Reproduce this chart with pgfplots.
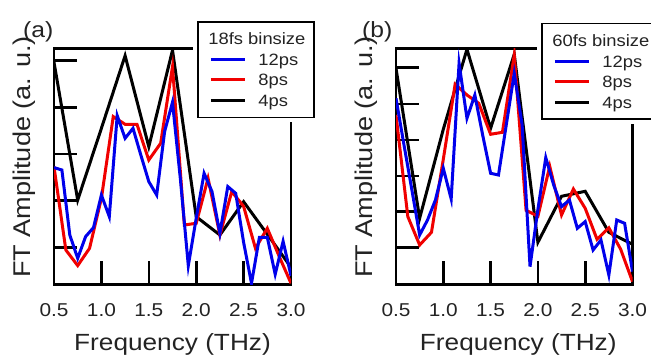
\documentclass[border=0pt]{standalone}
\usepackage{fontspec}
\setmainfont{Liberation Sans}[FakeStretch=1.12]
\usepackage{pgfplots}
\pgfplotsset{compat=1.18}
\definecolor{tcol}{RGB}{35,35,35}
\definecolor{pblue}{RGB}{0,0,235}
\definecolor{pred}{RGB}{240,0,0}
\pgfplotsset{
  panel/.style={
    scale only axis, anchor=south west,
    width=237pt, height=235.8pt,
    xmin=0.5, xmax=3.0, ymin=0, ymax=235.8,
    axis line style={line width=2.6pt, black},
    tick align=inside, major tick length=23pt,
    tick style={line width=2.6pt, black},
    xtick pos=left, ytick pos=left,
    xtick={0.5,1.0,1.5,2.0,2.5,3.0},
    xticklabels={0.5,1.0,1.5,2.0,2.5,3.0},
    yticklabels={},
    xticklabel style={font=\fontsize{18.6}{20}\selectfont, text=tcol, anchor=base, yshift=-32pt},
    xlabel={Frequency (THz)},
    ylabel={FT Amplitude (a. u.)},
    xlabel style={font=\fontsize{23.4}{26}\selectfont, text=tcol, anchor=base},
    ylabel style={font=\fontsize{24.2}{27}\selectfont, text=tcol, anchor=base, rotate=0},
    legend cell align=left,
    legend image code/.code={\draw[#1, line width=3pt] (0pt,0pt) -- (34pt,0pt);},
    legend style={anchor=north west, draw=black, line width=1.8pt, fill=white,
      preaction={draw=white, line width=9pt},
      inner xsep=8.5pt, inner ysep=9pt, row sep=4.5pt, column sep=9pt,
      font=\fontsize{16.4}{18}\selectfont, text=tcol,
      nodes={inner sep=0pt, text height=14pt, text depth=2pt}},
    every axis plot/.append style={line width=3pt},
  }
}
\begin{document}
\begin{tikzpicture}
% ---------------- panel (a) ----------------
\begin{axis}[panel, at={(54pt,71.7pt)},
  ytick={37,83.7,130.3,177,223.7},
  xlabel style={at={(axis description cs:0.5,-0.28)}},
  ylabel style={at={(axis description cs:-0.099,0.54)}},
  legend style={at={(axis description cs:0.6034,1.1166)}}]
\addlegendimage{empty legend}\addlegendentry{\hspace{-50pt}18fs binsize\hspace{5pt}}
\addlegendimage{pblue}\addlegendentry{12ps}
\addlegendimage{pred}\addlegendentry{8ps}
\addlegendimage{black}\addlegendentry{4ps}
\addplot[black, forget plot] coordinates {
(0.5,222) (0.75,84.3) (1.0,156) (1.25,228.6) (1.5,137.6) (1.75,234)
(2.0,67.6) (2.25,49.3) (2.5,82.6) (2.75,50) (3.0,17)};
\addplot[pred, forget plot] coordinates {
(0.5,117.7) (0.625,34.3) (0.75,18.7) (0.875,36) (1.0,86) (1.125,167.7)
(1.25,160) (1.375,160) (1.5,124.3) (1.625,141) (1.75,217.7) (1.875,59.3)
(2.0,61) (2.125,106) (2.25,49.3) (2.375,92.7) (2.5,78) (2.625,36)
(2.75,56) (2.875,28) (3.0,1)};
\addplot[pblue, forget plot] coordinates {
(0.5,116.7) (0.5833,114.3) (0.6667,49.3) (0.75,26) (0.8333,47.7) (0.9167,56.7)
(1.0,89.3) (1.0833,67.7) (1.1667,168.7) (1.25,146) (1.3333,156) (1.4167,129)
(1.5,102.7) (1.5833,89.3) (1.6667,152.7) (1.75,182) (1.8333,105) (1.9167,18.7)
(2.0,66) (2.0833,111) (2.1667,92.7) (2.25,51) (2.3333,97.7) (2.4167,91)
(2.5,42) (2.5833,1) (2.6667,47) (2.75,47) (2.8333,10) (2.9167,43) (3.0,8.5)};
\end{axis}
% ---------------- panel (b) ----------------
\begin{axis}[panel, at={(396pt,71.7pt)}, width=236.5pt,
  ytick={36.7,72.7,108.3,144.3,180.3,217},
  xlabel style={at={(axis description cs:0.517,-0.28)}},
  ylabel style={at={(axis description cs:-0.099,0.54)}},
  legend style={at={(axis description cs:0.6131,1.1094)}}]
\addlegendimage{empty legend}\addlegendentry{\hspace{-50pt}60fs binsize\hspace{5pt}}
\addlegendimage{pblue}\addlegendentry{12ps}
\addlegendimage{pred}\addlegendentry{8ps}
\addlegendimage{black}\addlegendentry{4ps}
\addplot[black, forget plot] coordinates {
(0.5,216) (0.75,66) (1.0,155) (1.25,235) (1.5,156) (1.75,230)
(2.0,42) (2.25,88) (2.5,93) (2.75,52) (3.0,40)};
\addplot[pred, forget plot] coordinates {
(0.5,169.3) (0.625,67.7) (0.75,39.3) (0.875,52) (1.0,125) (1.125,200)
(1.25,189.3) (1.375,181) (1.5,150) (1.625,152) (1.75,229.3) (1.875,74)
(2.0,68) (2.125,118) (2.25,69.3) (2.375,95.3) (2.5,76) (2.625,45)
(2.75,56.5) (2.875,35) (3.0,2.7)};
\addplot[pblue, forget plot] coordinates {
(0.5,186) (0.5833,140) (0.6667,95) (0.75,49.3) (0.8333,64.3) (0.9167,84.3)
(1.0,116) (1.0833,85.3) (1.1667,221) (1.25,166) (1.3333,189.3) (1.4167,149)
(1.5,111) (1.5833,109.3) (1.6667,160) (1.75,211) (1.8333,159.3) (1.9167,17.7)
(2.0,75) (2.0833,126.7) (2.1667,99.3) (2.25,77.7) (2.3333,84.3) (2.4167,56)
(2.5,62.7) (2.5833,34.3) (2.6667,44.3) (2.75,9.3) (2.8333,64.3) (2.9167,61) (3.0,12.7)};
\end{axis}
\node[anchor=base west, inner sep=0pt, font=\fontsize{22}{24}\selectfont, text=tcol] at (23pt,318.5pt) {(a)};
\node[anchor=base west, inner sep=0pt, font=\fontsize{22}{24}\selectfont, text=tcol] at (362pt,318.5pt) {(b)};
\pgfresetboundingbox
\path[use as bounding box] (0pt,0pt) rectangle (651pt,356pt);
\end{tikzpicture}
\end{document}
